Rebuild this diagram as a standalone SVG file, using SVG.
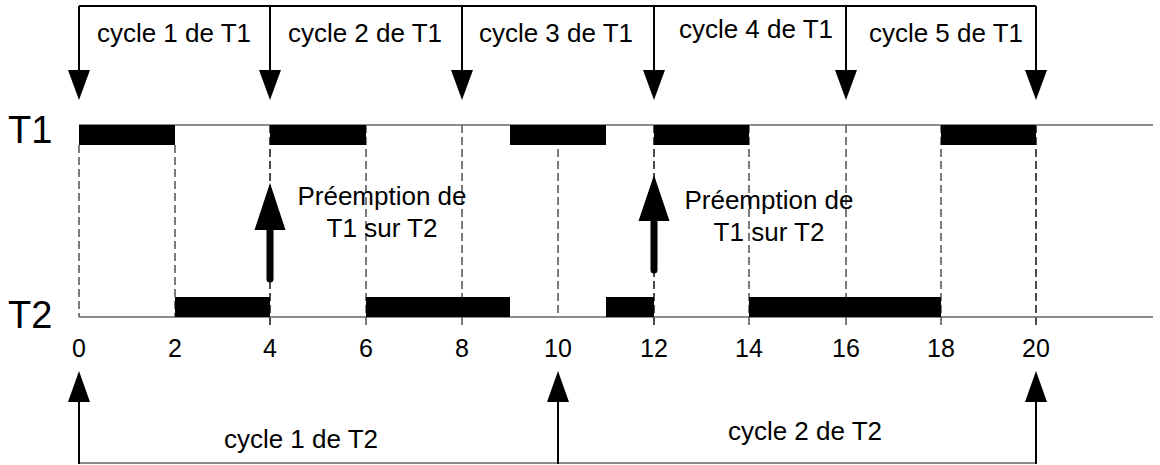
<svg xmlns="http://www.w3.org/2000/svg" width="1160" height="465" viewBox="0 0 1160 465">
<style>
text{font-family:"Liberation Sans",Arial,sans-serif;fill:#000}
.lbl{font-size:26px;text-anchor:middle}
.num{font-size:25px;text-anchor:middle}
.task{font-size:38px}
.axis{stroke:#666;stroke-width:1.5;fill:none}
.bar{fill:#000}
.dash{stroke:#444;stroke-width:1.4;stroke-dasharray:8 4;fill:none}
.dashk{stroke:#000;stroke-width:1.4;stroke-dasharray:8 4;fill:none}
.ln{stroke:#000;stroke-width:2;fill:none}
.hd{fill:#000}
.pre{stroke:#000;stroke-width:7;stroke-linecap:round;fill:none}
</style>
<rect width="1160" height="465" fill="#fff"/>
<g id="grid">
<line class="dash" x1="79" y1="145" x2="79" y2="317"/>
<line class="dash" x1="175" y1="145" x2="175" y2="317"/>
<line class="dashk" x1="270" y1="125" x2="270" y2="327"/>
<line class="dash" x1="366" y1="125" x2="366" y2="327"/>
<line class="dash" x1="462" y1="125" x2="462" y2="327"/>
<line class="dash" x1="558" y1="125" x2="558" y2="317"/>
<line class="dashk" x1="654" y1="125" x2="654" y2="327"/>
<line class="dash" x1="749" y1="125" x2="749" y2="327"/>
<line class="dash" x1="846" y1="125" x2="846" y2="327"/>
<line class="dash" x1="941" y1="125" x2="941" y2="327"/>
<line class="dashk" x1="1036" y1="125" x2="1036" y2="327"/>
</g>
<g id="T1">
<text class="task" x="8" y="143">T1</text>
<line class="axis" x1="79" y1="125" x2="1153" y2="125"/>
<rect class="bar" x="79" y="125" width="96" height="20"/>
<rect class="bar" x="270" y="125" width="96" height="20"/>
<rect class="bar" x="510" y="125" width="96" height="20"/>
<rect class="bar" x="654" y="125" width="95" height="20"/>
<rect class="bar" x="941" y="125" width="95" height="20"/>
</g>
<g id="T2">
<text class="task" x="8" y="328">T2</text>
<line class="axis" x1="79" y1="317" x2="1153" y2="317"/>
<rect class="bar" x="175" y="297" width="95" height="20"/>
<rect class="bar" x="366" y="297" width="144" height="20"/>
<rect class="bar" x="606" y="297" width="48" height="20"/>
<rect class="bar" x="749" y="297" width="192" height="20"/>
</g>
<g id="ticks">
<text class="num" x="79" y="357">0</text>
<text class="num" x="175" y="357">2</text>
<text class="num" x="270" y="357">4</text>
<text class="num" x="366" y="357">6</text>
<text class="num" x="462" y="357">8</text>
<text class="num" x="558" y="357">10</text>
<text class="num" x="654" y="357">12</text>
<text class="num" x="749" y="357">14</text>
<text class="num" x="846" y="357">16</text>
<text class="num" x="941" y="357">18</text>
<text class="num" x="1036" y="357">20</text>
</g>
<g id="connectors">
<line class="ln" x1="79" y1="6" x2="1036" y2="6"/>
<line class="ln" x1="79" y1="6" x2="79" y2="75"/><polygon class="hd" points="68,70 90,70 79,100"/>
<line class="ln" x1="270" y1="6" x2="270" y2="75"/><polygon class="hd" points="259,70 281,70 270,100"/>
<line class="ln" x1="462" y1="6" x2="462" y2="75"/><polygon class="hd" points="451,70 473,70 462,100"/>
<line class="ln" x1="654" y1="6" x2="654" y2="75"/><polygon class="hd" points="643,70 665,70 654,100"/>
<line class="ln" x1="846" y1="6" x2="846" y2="75"/><polygon class="hd" points="835,70 857,70 846,100"/>
<line class="ln" x1="1036" y1="6" x2="1036" y2="75"/><polygon class="hd" points="1025,70 1047,70 1036,100"/>
<line class="axis" x1="79" y1="463" x2="1036" y2="463"/>
<line class="ln" x1="79" y1="464" x2="79" y2="398"/><polygon class="hd" points="68,402 90,402 79,371"/>
<line class="ln" x1="558" y1="464" x2="558" y2="398"/><polygon class="hd" points="547,402 569,402 558,371"/>
<line class="ln" x1="1036" y1="464" x2="1036" y2="398"/><polygon class="hd" points="1025,402 1047,402 1036,371"/>
<line class="pre" x1="270" y1="279" x2="270" y2="226"/><polygon class="hd" points="254.5,230 285.5,230 270,183"/>
<line class="pre" x1="654" y1="270" x2="654" y2="217"/><polygon class="hd" points="638.5,221 669.5,221 654,175"/>
</g>
<g id="labels">
<text class="lbl" x="174" y="42">cycle 1 de T1</text>
<text class="lbl" x="365" y="42">cycle 2 de T1</text>
<text class="lbl" x="556" y="42">cycle 3 de T1</text>
<text class="lbl" x="756" y="38">cycle 4 de T1</text>
<text class="lbl" x="946" y="42">cycle 5 de T1</text>
<text class="lbl" x="382" y="205">Préemption de</text>
<text class="lbl" x="382" y="237">T1 sur T2</text>
<text class="lbl" x="769" y="209">Préemption de</text>
<text class="lbl" x="769" y="241">T1 sur T2</text>
<text class="lbl" x="301" y="448">cycle 1 de T2</text>
<text class="lbl" x="805" y="440">cycle 2 de T2</text>
</g>
</svg>
